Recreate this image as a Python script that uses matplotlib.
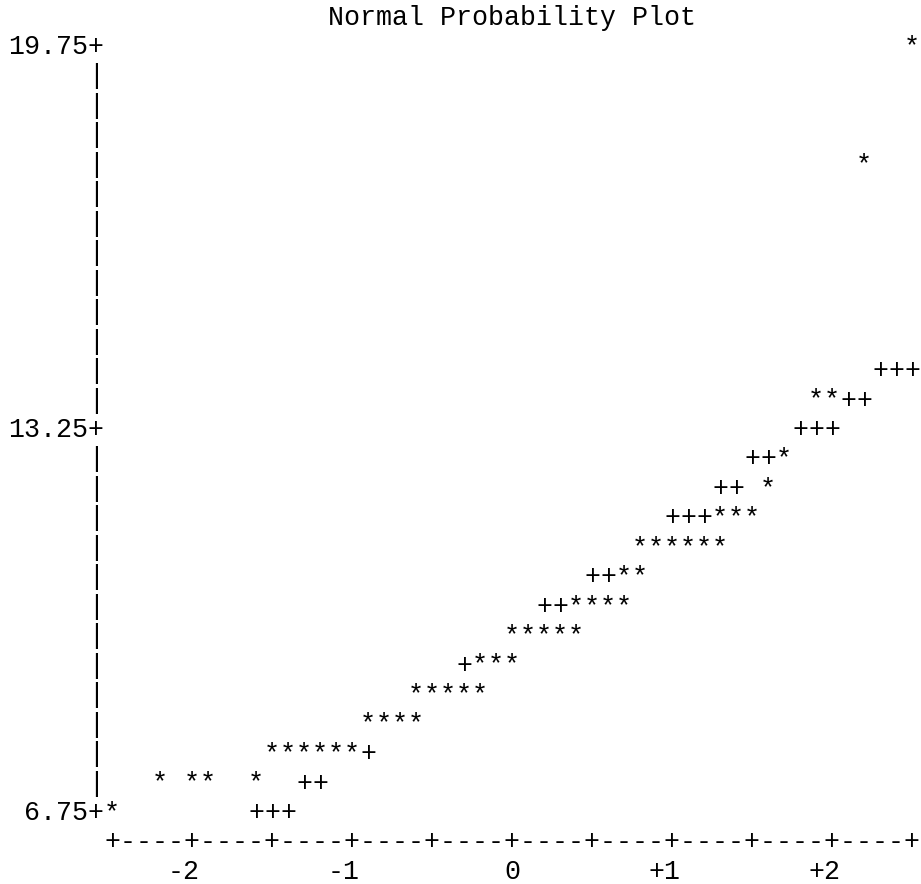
import matplotlib
matplotlib.use("Agg")
import matplotlib.pyplot as plt

# --- DATA ---
# Data points ('*'): normal quantile vs. observed value
STAR_Z = [2.5,
          2.2,
          1.9, 2.0,
          1.7,
          1.6,
          1.3, 1.4, 1.5,
          0.8, 0.9, 1.0, 1.1, 1.2, 1.3,
          0.7, 0.8,
          0.4, 0.5, 0.6, 0.7,
          0.0, 0.1, 0.2, 0.3, 0.4,
          -0.2, -0.1, 0.0,
          -0.6, -0.5, -0.4, -0.3, -0.2,
          -0.9, -0.8, -0.7, -0.6,
          -1.5, -1.4, -1.3, -1.2, -1.1, -1.0,
          -2.2, -2.0, -1.9, -1.6,
          -2.5]
STAR_Y = [19.75,
          17.75,
          13.75, 13.75,
          12.75,
          12.25,
          11.75, 11.75, 11.75,
          11.25, 11.25, 11.25, 11.25, 11.25, 11.25,
          10.75, 10.75,
          10.25, 10.25, 10.25, 10.25,
          9.75, 9.75, 9.75, 9.75, 9.75,
          9.25, 9.25, 9.25,
          8.75, 8.75, 8.75, 8.75, 8.75,
          8.25, 8.25, 8.25, 8.25,
          7.75, 7.75, 7.75, 7.75, 7.75, 7.75,
          7.25, 7.25, 7.25, 7.25,
          6.75]

# Reference line ('+'), only where not hidden by a data point
REF_Z = [2.3, 2.4, 2.5,
         2.1, 2.2,
         1.8, 1.9, 2.0,
         1.5, 1.6,
         1.3, 1.4,
         1.0, 1.1, 1.2,
         0.5, 0.6,
         0.2, 0.3,
         -0.3,
         -0.9,
         -1.3, -1.2,
         -1.6, -1.5, -1.4]
REF_Y = [14.25, 14.25, 14.25,
         13.75, 13.75,
         13.25, 13.25, 13.25,
         12.75, 12.75,
         12.25, 12.25,
         11.75, 11.75, 11.75,
         10.75, 10.75,
         10.25, 10.25,
         9.25,
         7.75,
         7.25, 7.25,
         6.75, 6.75, 6.75]

Y_TICKS = [19.75, 13.25, 6.75]
Y_TICK_LABELS = ["19.75", "13.25", "6.75"]
X_TICKS = [-2, -1, 0, 1, 2]
X_TICK_LABELS = ["-2", "-1", "0", "+1", "+2"]
TITLE = "Normal Probability Plot"

# --- LAYOUT (one character cell = 0.1 in z, 0.5 in y) ---
CELL_X = 0.1
CELL_Y = 0.5
FONT_SIZE = 19.2

plt.rcParams['font.family'] = ['Liberation Mono', 'DejaVu Sans Mono']

fig = plt.figure(figsize=(9.21, 8.84), dpi=100)
ax = fig.add_axes([0, 0, 1, 1])
ax.set_xlim(-3.2, 2.55625)
ax.set_ylim(5.5443, 20.5477)
ax.axis("off")

txt = dict(fontsize=FONT_SIZE, va="center", color="black")

# title, centred on z = 0 one line above the top
ax.text(0.0, Y_TICKS[0] + CELL_Y, TITLE, ha="center", **txt)

# vertical axis: tick labels ending in '+', bars in between
x_left = -2.5 - CELL_X  # column of the vertical axis
for v, lab in zip(Y_TICKS, Y_TICK_LABELS):
    ax.text(x_left + CELL_X / 2, v, lab + "+", ha="right", **txt)
n_rows = int(round((Y_TICKS[0] - Y_TICKS[-1]) / CELL_Y))
for i in range(1, n_rows):
    v = Y_TICKS[0] - i * CELL_Y
    if any(abs(v - t) < 1e-9 for t in Y_TICKS):
        continue
    ax.text(x_left, v, "|", ha="center", **txt)

# horizontal axis line
axis_y = Y_TICKS[-1] - CELL_Y
axis_str = "+" + "----+" * 10
ax.text(-2.5 - CELL_X / 2, axis_y, axis_str, ha="left", **txt)
for z, lab in zip(X_TICKS, X_TICK_LABELS):
    ax.text(z + CELL_X / 2, axis_y - CELL_Y, lab, ha="right", **txt)

# reference line then data points
for z, v in zip(REF_Z, REF_Y):
    ax.text(z, v, "+", ha="center", **txt)
for z, v in zip(STAR_Z, STAR_Y):
    ax.text(z, v, "*", ha="center", **txt)

fig.savefig("out.png", dpi=100, facecolor="white")
